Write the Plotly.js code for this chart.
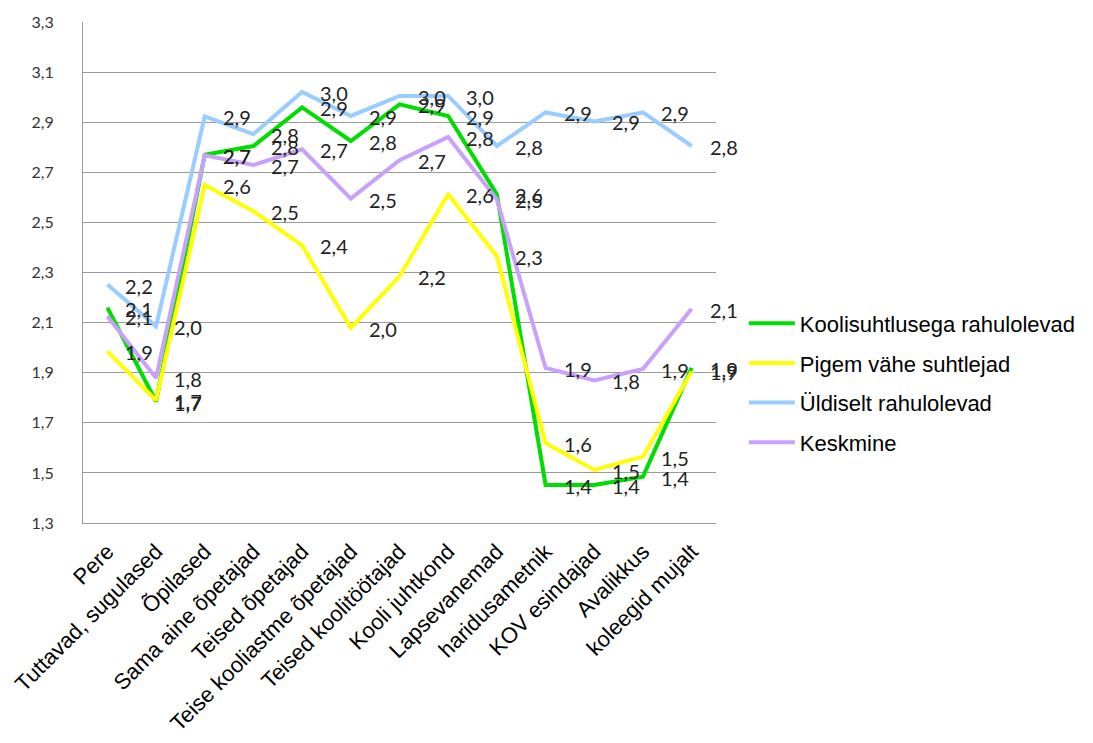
<!DOCTYPE html>
<html>
<head>
<meta charset="utf-8">
<script src="https://cdn.plot.ly/plotly-3.0.1.min.js"></script>
<style>html,body{margin:0;padding:0;background:#fff;}#chart{width:1093px;height:743px;}</style>
</head>
<body>
<div id="chart"></div>
<script>
var categories = ['Pere','Tuttavad, sugulased','Õpilased','Sama aine õpetajad','Teised õpetajad','Teise kooliastme õpetajad','Teised koolitöötajad','Kooli juhtkond','Lapsevanemad','haridusametnik','KOV esindajad','Avalikkus','koleegid mujalt'];
var seriesNames = ['Koolisuhtlusega rahulolevad','Pigem vähe suhtlejad','Üldiselt rahulolevad','Keskmine'];
var rahulolevad = [2.16, 1.785, 2.77, 2.805, 2.959, 2.825, 2.971, 2.925, 2.612, 1.452, 1.452, 1.485, 1.919];
var vaheSuhtlejad = [1.985, 1.79, 2.649, 2.545, 2.408, 2.079, 2.285, 2.612, 2.365, 1.619, 1.512, 1.565, 1.905];
var uldiselt = [2.252, 2.085, 2.923, 2.852, 3.021, 2.925, 3.005, 3.005, 2.805, 2.939, 2.903, 2.939, 2.805];
var keskmine = [2.125, 1.879, 2.768, 2.729, 2.792, 2.595, 2.748, 2.841, 2.592, 1.919, 1.869, 1.915, 2.155];
var colors = ['#00DD00','#FFFF00','#99CCFF','#C9A0FA'];
var allSeries = [rahulolevad, vaheSuhtlejad, uldiselt, keskmine];

function lbl(v){ return (Math.floor(v*10+1e-9)/10).toFixed(1).replace('.',','); }

var traces = allSeries.map(function(s,i){
  return {x: categories, y: s, type:'scatter', mode:'lines', name: seriesNames[i],
    legendgroup: 'g'+i,
    line:{color: colors[i], width:4}, hoverinfo:'skip'};
});

var annotations = [];
allSeries.forEach(function(s){
  s.forEach(function(v,j){
    annotations.push({x: categories[j], y: v, xref:'x', yref:'y', text: lbl(v), showarrow:false,
      xanchor:'left', yanchor:'middle', xshift:16, yshift:-1,
      font:{family:'Lato, sans-serif', size:20, color:'#222'}});
  });
});

var layout = {
  width:1093, height:743,
  margin:{l:83, r:374, t:22, b:220, pad:0},
  paper_bgcolor:'#fff', plot_bgcolor:'#fff',
  separators:',.',
  showlegend:true,
  legend:{x:1.044, xanchor:'left', y:0.44, yanchor:'top', xref:'paper', yref:'paper',
    font:{family:'Liberation Sans, Arial, sans-serif', size:22, color:'#000'},
    itemwidth:46, tracegroupgap:8, bgcolor:'rgba(0,0,0,0)', borderwidth:0},
  xaxis:{type:'category', tickangle:-45, showgrid:false, zeroline:false,
    showline:true, linecolor:'#9a9a9a', linewidth:1, ticks:'', ticklabelstandoff:6,
    tickfont:{family:'Liberation Sans, Arial, sans-serif', size:22, color:'#000'},
    range:[-0.5, 12.5]},
  yaxis:{range:[1.3,3.3], dtick:0.2, tick0:1.3, tickformat:'.1f',
    showgrid:true, gridcolor:'#9a9a9a', gridwidth:1, zeroline:false,
    showline:true, linecolor:'#9a9a9a', linewidth:1, ticks:'', ticklabelstandoff:25,
    tickfont:{family:'Lato, sans-serif', size:16, color:'#333'}},
  annotations: annotations
};

Plotly.newPlot('chart', traces, layout, {staticPlot:true});
</script>
</body>
</html>
